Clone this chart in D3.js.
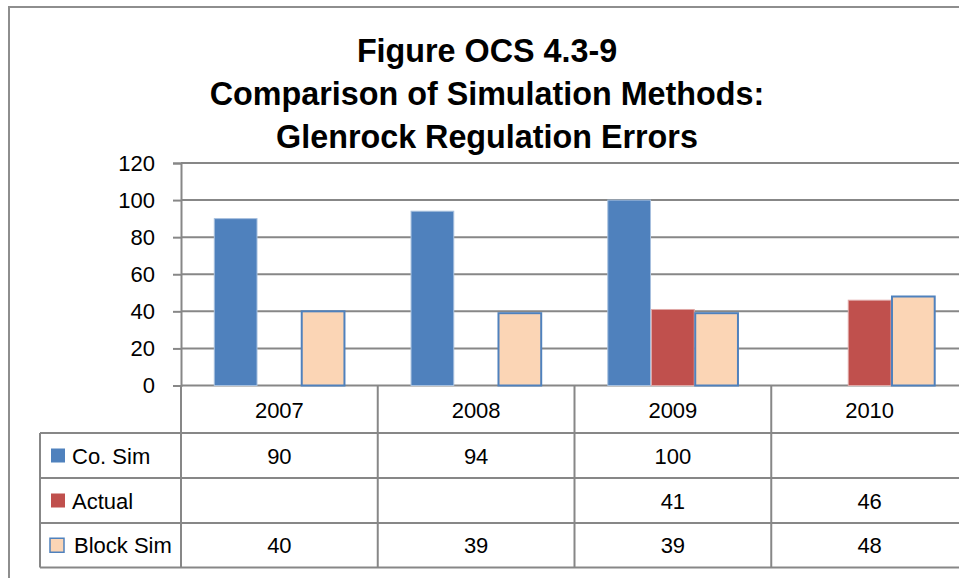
<!DOCTYPE html>
<html>
<head>
<meta charset="utf-8">
<script src="https://d3js.org/d3.v7.min.js"></script>
<style>
  body { margin: 0; background: #fff; }
  svg { display: block; }
  text { font-family: "Liberation Sans", Arial, sans-serif; fill: #000; }
</style>
</head>
<body>
<div id="chart"></div>
<script>
// chart values
var years = ['2007', '2008', '2009', '2010']
var seriesNames = ['Co. Sim', 'Actual', 'Block Sim']
var coSim = [90, 94, 100, null]
var actual = [null, null, 41, 46]
var blockSim = [40, 39, 39, 48]
var yTicks = [0, 20, 40, 60, 80, 100, 120]
var titleLines = ['Figure OCS 4.3-9', 'Comparison of Simulation Methods:', 'Glenrock Regulation Errors']

var W = 959, H = 578
var plotLeft = 181, plotRight = 968, plotTop = 163, plotBase = 385.5
var tableLeft = 40
var rowLines = [433, 478, 523, 567.5]
var grid = '#878787'
var fs = 22

var fills = ['#4f81bd', '#c0504d', '#fbd5b5']
var strokes = ['#a7c0de', '#dfa8a6', '#4f81bd']

var svg = d3.select('#chart').append('svg').attr('width', W).attr('height', H)

// outer chart frame
svg.append('path')
    .attr('d', 'M9,' + H + 'V7H' + W)
    .attr('fill', 'none').attr('stroke', '#8e8e8e').attr('stroke-width', 2)

// title
svg.append('g').selectAll('text')
    .data(titleLines)
    .join('text')
    .attr('x', 487)
    .attr('y', function(d, i) { return 62 + i * 43 })
    .attr('text-anchor', 'middle')
    .attr('font-size', 32.3)
    .attr('font-weight', 'bold')
    .text(function(d) { return d })

var x = d3.scaleBand().domain(years).range([plotLeft, plotRight])
var inner = d3.scaleBand().domain(seriesNames).range([0, x.bandwidth()]).paddingOuter(0.75).paddingInner(0)
var y = d3.scaleLinear().domain([0, 120]).range([plotBase, plotTop])

// gridlines
svg.append('g').selectAll('line')
    .data(yTicks)
    .join('line')
    .attr('x1', plotLeft).attr('x2', W)
    .attr('y1', function(d) { return y(d) }).attr('y2', function(d) { return y(d) })
    .attr('stroke', grid).attr('stroke-width', 2)

// y axis
var yAxis = svg.append('g')
    .attr('transform', 'translate(' + plotLeft + ',0)')
    .call(d3.axisLeft(y).tickValues(yTicks).tickSize(8).tickPadding(18))
yAxis.select('.domain').attr('stroke', grid).attr('stroke-width', 2)
yAxis.selectAll('.tick line').attr('stroke', grid).attr('stroke-width', 2)
yAxis.selectAll('.tick text')
    .attr('font-size', fs)
    .style('font-family', '"Liberation Sans", Arial, sans-serif')
    .attr('fill', '#000')

// bars
var allSeries = [coSim, actual, blockSim]
var barData = []
allSeries.forEach(function(vals, s) {
    vals.forEach(function(v, i) {
        if (v != null) barData.push({ year: years[i], s: s, v: v })
    })
})
svg.append('g').selectAll('rect')
    .data(barData)
    .join('rect')
    .attr('x', function(d) { return x(d.year) + inner(seriesNames[d.s]) + 0.5 })
    .attr('y', function(d) { return y(d.v) })
    .attr('width', inner.bandwidth() - 1)
    .attr('height', function(d) { return y(0) - y(d.v) })
    .attr('fill', function(d) { return fills[d.s] })
    .attr('stroke', function(d) { return strokes[d.s] })
    .attr('stroke-width', function(d) { return d.s == 2 ? 2 : 1 })

// data table
var table = svg.append('g')
var tl = table.append('g').attr('stroke', grid).attr('stroke-width', 2)
rowLines.forEach(function(ry) {
    tl.append('line').attr('x1', tableLeft).attr('x2', W).attr('y1', ry).attr('y2', ry)
})
tl.append('line').attr('x1', tableLeft).attr('x2', tableLeft).attr('y1', rowLines[0]).attr('y2', rowLines[3])
years.forEach(function(yr) {
    tl.append('line').attr('x1', x(yr)).attr('x2', x(yr)).attr('y1', plotBase).attr('y2', rowLines[3])
})

// year header
table.append('g').selectAll('text')
    .data(years)
    .join('text')
    .attr('x', function(d) { return x(d) + x.bandwidth() / 2 })
    .attr('y', 418)
    .attr('text-anchor', 'middle')
    .attr('font-size', fs)
    .text(function(d) { return d })

// legend keys and row values
seriesNames.forEach(function(name, s) {
    var cy = (rowLines[s] + rowLines[s + 1]) / 2
    table.append('rect')
        .attr('x', s == 2 ? 50 : 51).attr('y', cy - 7)
        .attr('width', 14).attr('height', 14)
        .attr('fill', fills[s])
        .attr('stroke', s == 2 ? strokes[s] : 'none')
        .attr('stroke-width', 1.5)
    table.append('text')
        .attr('x', s == 2 ? 74 : 72).attr('y', cy + 8)
        .attr('font-size', fs)
        .text(name)
    table.append('g').selectAll('text')
        .data(allSeries[s])
        .join('text')
        .attr('x', function(d, i) { return x(years[i]) + x.bandwidth() / 2 })
        .attr('y', cy + 8)
        .attr('text-anchor', 'middle')
        .attr('font-size', fs)
        .text(function(d) { return d == null ? '' : d })
})
</script>
</body>
</html>
